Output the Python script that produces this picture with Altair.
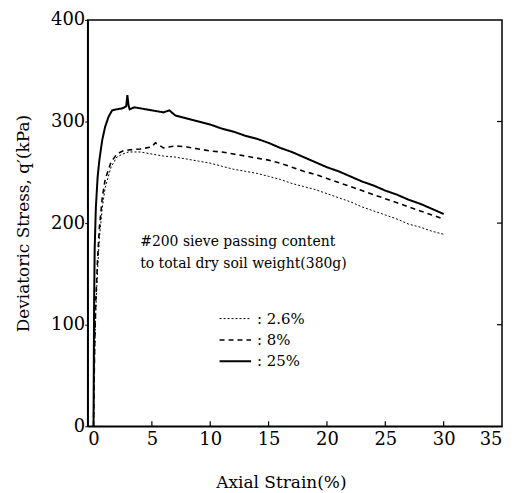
import altair as alt
import pandas as pd

# ---- data ----
strain_25 = [0, 0.05, 0.1, 0.2, 0.35, 0.5, 0.75, 1.0, 1.3, 1.6, 2.0, 2.5, 2.8, 2.9, 3.0, 3.1, 3.5, 4, 5, 6, 6.5, 7, 8, 9, 10,
             11, 12, 13, 14, 15, 16, 17, 18, 19, 20, 21, 22, 23, 24, 25, 26, 27, 28, 29, 30]
stress_25 = [0, 120, 175, 215, 245, 262, 282, 295, 305, 311, 312, 313, 315, 326, 316, 312, 314, 313, 311, 309, 311, 306, 303, 300, 297,
             293, 290, 286, 283, 279, 274, 270, 265, 260, 255, 251, 246, 241, 237, 232, 228, 223, 219, 214, 209]

strain_8 = [0, 0.1, 0.2, 0.35, 0.5, 0.75, 1.0, 1.5, 2, 2.5, 3, 4, 5, 5.3, 6, 7, 8, 9, 10, 11, 12, 13, 14, 15,
            16, 17, 18, 19, 20, 21, 22, 23, 24, 25, 26, 27, 28, 29, 30]
stress_8 = [0, 80, 125, 165, 195, 225, 243, 260, 268, 271, 272, 273, 275, 279, 274, 276, 275, 273, 271, 270, 268, 266, 264, 262,
            259, 255, 251, 248, 244, 240, 236, 232, 228, 224, 220, 216, 212, 208, 204]

strain_26 = [0, 0.1, 0.2, 0.35, 0.5, 0.75, 1.0, 1.5, 2, 2.5, 3, 4, 5, 6, 7, 8, 9, 10, 11, 12, 13, 14, 15,
             16, 17, 18, 19, 20, 21, 22, 23, 24, 25, 26, 27, 28, 29, 30]
stress_26 = [0, 70, 115, 155, 185, 215, 235, 255, 265, 268, 270, 270, 268, 266, 265, 263, 261, 259, 256, 253, 251, 249, 246,
             243, 239, 236, 233, 229, 225, 221, 216, 212, 208, 204, 199, 196, 192, 189]

series_names = ["2.6%", "8%", "25%"]
x_ticks = [0, 5, 10, 15, 20, 25, 30, 35]
y_ticks = [0, 100, 200, 300, 400]
note_lines = ["#200 sieve passing content", "to total dry soil weight(380g)"]

FONT = "DejaVu Serif"
W, H = 416, 408

rows = []
for name, xs, ys in [("2.6%", strain_26, stress_26), ("8%", strain_8, stress_8), ("25%", strain_25, stress_25)]:
    for i, (a, b) in enumerate(zip(xs, ys)):
        rows.append({"series": name, "strain": a, "stress": b, "order": i})
df = pd.DataFrame(rows)

xscale = alt.Scale(domain=[-0.5, 35], nice=False, zero=False)
yscale = alt.Scale(domain=[0, 400], nice=False)

xaxis = alt.Axis(values=x_ticks, title="Axial Strain(%)", ticks=False, labelPadding=4,
                 titlePadding=26, titleX=194, grid=False, domain=True, labelFont=FONT, titleFont=FONT,
                 labelFontSize=18, titleFontSize=17, titleFontWeight="normal", labelColor="black",
                 titleColor="black", domainColor="black", domainWidth=1.5)
yaxis = alt.Axis(values=y_ticks, title="Deviatoric Stress, q′(kPa)", tickSize=3, grid=False,
                 labelPadding=0, titlePadding=18, labelFont=FONT, titleFont=FONT,
                 labelFontSize=18, titleFontSize=17, titleFontWeight="normal", labelColor="black",
                 titleColor="black", domainColor="black", domainWidth=1.5, tickColor="black")

styles = {"2.6%": ([2, 2], 1.0), "8%": ([5, 4], 1.6), "25%": ([1, 0], 2.0)}


def series_layer(name):
    dash, w = styles[name]
    return alt.Chart(df[df.series == name]).mark_line(color="black", strokeWidth=w, strokeDash=dash).encode(
        x=alt.X("strain:Q", scale=xscale, axis=xaxis),
        y=alt.Y("stress:Q", scale=yscale, axis=yaxis),
        order="order:Q",
    )


layers = [series_layer(n) for n in series_names]

# inward ticks on bottom and right
xt = pd.DataFrame({"t": x_ticks[1:-1]})
bottom_ticks = alt.Chart(xt).mark_rule(color="black", strokeWidth=1.2).encode(
    x=alt.X("t:Q", scale=xscale), y=alt.value(H), y2=alt.value(H - 5))
yt = pd.DataFrame({"t": y_ticks[1:-1]})
right_ticks = alt.Chart(yt).mark_rule(color="black", strokeWidth=1.2).encode(
    y=alt.Y("t:Q", scale=yscale), x=alt.value(W), x2=alt.value(W - 5))

# annotation
note = pd.DataFrame({"txt": note_lines, "x": [4.0, 4.0], "y": [181, 160]})
note_layer = alt.Chart(note).mark_text(align="left", baseline="middle", font=FONT, fontSize=14,
                                       color="black").encode(
    x=alt.X("x:Q", scale=xscale), y=alt.Y("y:Q", scale=yscale), text="txt:N")

# legend
leg = pd.DataFrame({"series": series_names, "x1": [10.8] * 3, "x2": [13.5] * 3, "y": [106, 85, 64],
                    "lab": [": " + s for s in series_names], "tx": [14.0] * 3})
leg_layers = []
for name in series_names:
    dash, w = styles[name]
    leg_layers.append(alt.Chart(leg[leg.series == name]).mark_rule(color="black", strokeWidth=w, strokeDash=dash).encode(
        x=alt.X("x1:Q", scale=xscale), x2="x2:Q", y=alt.Y("y:Q", scale=yscale)))
leg_text = alt.Chart(leg).mark_text(align="left", baseline="middle", font=FONT, fontSize=15, color="black").encode(
    x=alt.X("tx:Q", scale=xscale), y=alt.Y("y:Q", scale=yscale), text="lab:N")

chart = alt.layer(*layers, bottom_ticks, right_ticks, note_layer, *leg_layers, leg_text).properties(
    width=W, height=H, background="white", padding={"left": 6, "top": 2, "right": 2, "bottom": 2}
).configure_view(stroke="black", strokeWidth=1.5)

chart.save("out.html", embed_options={"renderer": "svg", "actions": False})
